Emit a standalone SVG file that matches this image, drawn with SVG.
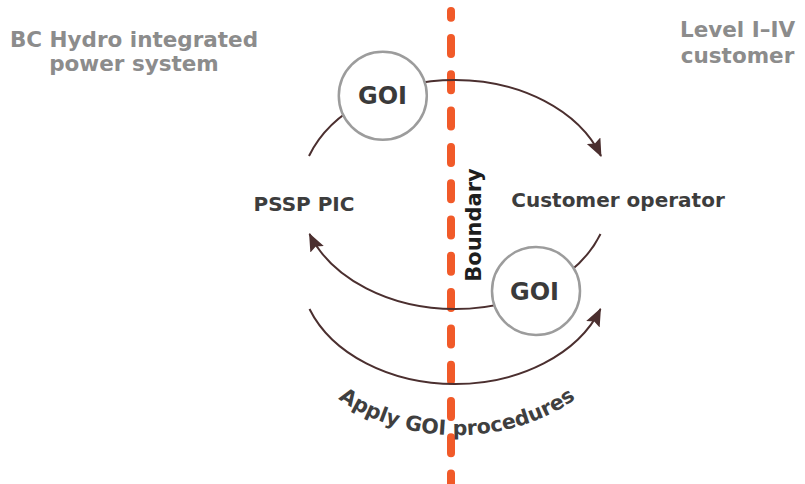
<svg xmlns="http://www.w3.org/2000/svg" width="805" height="484" viewBox="0 0 805 484">
<style>
.title{font-family:"DejaVu Sans","Liberation Sans",sans-serif;font-weight:bold;font-size:21.5px;fill:#8c8c8c;text-anchor:middle}
.label{font-family:"DejaVu Sans","Liberation Sans",sans-serif;font-weight:bold;font-size:20px;fill:#3d3d3d;text-anchor:middle}
.goi{font-family:"DejaVu Sans","Liberation Sans",sans-serif;font-weight:bold;font-size:24px;fill:#3a3a3a;text-anchor:middle}
.circ{fill:#ffffff;stroke:#9c9c9c;stroke-width:2.5}
.arc{fill:none;stroke:#4b2f2f;stroke-width:2}
.boundary{fill:none;stroke:#f15a29;stroke-width:8;stroke-linecap:round;stroke-dasharray:16 20.3;stroke-dashoffset:9.3}
</style>
<defs>
<marker id="arrow" markerUnits="userSpaceOnUse" markerWidth="20" markerHeight="16" refX="17" refY="7.5" orient="auto">
<path d="M0,0 L18,7.5 L0,15 L3,7.5 z" fill="#4b2f2f"/>
</marker>
<path id="applyPath" d="M316,380 A182 150 0 0 0 598,380"/>
</defs>
<g id="boundary-line">
<path class="boundary" d="M451,11 L451,484"/>
</g>
<g id="connectors">
<path class="arc" d="M309,156 A155 114.5 0 0 1 601,156" marker-end="url(#arrow)"/>
<path class="arc" d="M600.5,234 A155 114.5 0 0 1 309.5,234" marker-end="url(#arrow)"/>
<path class="arc" d="M309.5,309 A155 114.5 0 0 0 600.5,309" marker-end="url(#arrow)"/>
</g>
<g id="title-left">
<text class="title" x="134" y="46.5">BC Hydro integrated</text>
<text class="title" x="134" y="71">power system</text>
</g>
<g id="title-right">
<text class="title" x="737.5" y="36.5">Level I–IV</text>
<text class="title" x="737.5" y="62.5">customer</text>
</g>
<g id="goi-top">
<circle class="circ" cx="382.8" cy="95.8" r="44"/>
<text class="goi" x="382.5" y="103.5">GOI</text>
</g>
<g id="goi-bottom">
<circle class="circ" cx="536" cy="291" r="44"/>
<text class="goi" x="534.5" y="299.5">GOI</text>
</g>
<g id="pssp-pic">
<text class="label" x="304" y="210.5">PSSP PIC</text>
</g>
<g id="customer-operator">
<text class="label" x="618" y="206.5">Customer operator</text>
</g>
<g id="boundary-label">
<text x="481" y="225" transform="rotate(-90 481 225)" style="font-family:'DejaVu Sans','Liberation Sans',sans-serif;font-weight:bold;font-size:21px;fill:#1e1e1e;text-anchor:middle">Boundary</text>
</g>
<g id="apply-label">
<text style="font-family:'DejaVu Sans','Liberation Sans',sans-serif;font-weight:bold;font-size:20.5px;fill:#3f3f3f;text-anchor:middle"><textPath href="#applyPath" startOffset="50%">Apply GOI procedures</textPath></text>
</g>
</svg>
